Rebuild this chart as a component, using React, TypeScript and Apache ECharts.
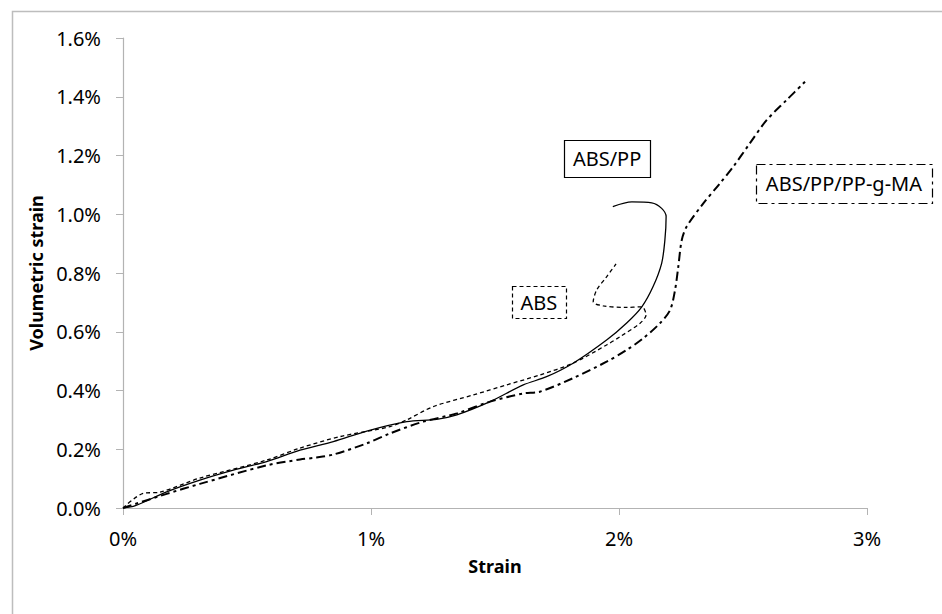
import React, { useEffect, useRef } from "react";
import * as echarts from "echarts";

// Strain (%) vs volumetric strain (%)
const absPP: [number, number][] = [
  [0, 0], [0.05, 0.008], [0.176, 0.055], [0.31, 0.095], [0.445, 0.129], [0.579, 0.158],
  [0.714, 0.197], [0.848, 0.226], [0.983, 0.262], [1.144, 0.294], [1.265, 0.302],
  [1.346, 0.317], [1.48, 0.362], [1.614, 0.419], [1.708, 0.447], [1.815, 0.493],
  [1.95, 0.572], [2.031, 0.63], [2.092, 0.685], [2.137, 0.753], [2.172, 0.833],
  [2.185, 0.912], [2.19, 0.992], [2.172, 1.02], [2.132, 1.039], [2.052, 1.042], [1.975, 1.026],
];

const abs: [number, number][] = [
  [0, 0], [0.082, 0.05], [0.149, 0.054], [0.31, 0.102], [0.579, 0.163], [0.714, 0.204],
  [0.875, 0.243], [1.077, 0.277], [1.144, 0.3], [1.251, 0.345], [1.413, 0.385],
  [1.547, 0.419], [1.681, 0.453], [1.815, 0.493], [1.95, 0.555], [2.004, 0.583],
  [2.085, 0.629], [2.109, 0.657], [2.092, 0.685], [2.031, 0.683], [1.937, 0.688],
  [1.896, 0.702], [1.91, 0.742], [1.95, 0.787], [1.988, 0.831],
];

const absPPgMA: [number, number][] = [
  [0, 0], [0.176, 0.048], [0.31, 0.082], [0.579, 0.145], [0.714, 0.165], [0.781, 0.172],
  [0.848, 0.182], [0.983, 0.22], [1.077, 0.254], [1.211, 0.294], [1.346, 0.322],
  [1.48, 0.362], [1.614, 0.39], [1.681, 0.396], [1.815, 0.442], [1.95, 0.498],
  [2.031, 0.538], [2.098, 0.578], [2.165, 0.629], [2.206, 0.674], [2.226, 0.742],
  [2.239, 0.821], [2.253, 0.912], [2.273, 0.958], [2.34, 1.037], [2.407, 1.105],
  [2.461, 1.162], [2.528, 1.242], [2.596, 1.321], [2.676, 1.389], [2.75, 1.451],
];

const seriesNames = ["ABS/PP", "ABS", "ABS/PP/PP-g-MA"];
// annotation box centers in data coordinates (strain %, vol %)
const labelAnchors: [number, number][] = [[1.952, 1.19], [1.677, 0.701], [2.907, 1.105]];
const labelSizes: [number, number][] = [[86, 37], [54, 32], [176, 39]];

const xTicks = [0, 1, 2, 3];
const yTicks = [0, 0.2, 0.4, 0.6, 0.8, 1.0, 1.2, 1.4, 1.6];

const FONT = "'Noto Sans', 'Open Sans', sans-serif";
const AXIS_GRAY = "#B3B3B3";
const dashes = [null, [4, 3], [9, 4, 3, 4]] as (number[] | null)[];

export default function App() {
  const ref = useRef<HTMLDivElement>(null);
  useEffect(() => {
    if (!ref.current) return;
    const chart = echarts.init(ref.current, undefined, { renderer: "svg" });
    const data = [absPP, abs, absPPgMA];
    const widths = [1.3, 1.3, 2];
    chart.setOption({
      animation: false,
      grid: { left: 123, top: 38, right: 75, bottom: 106 },
      xAxis: {
        type: "value",
        min: xTicks[0],
        max: xTicks[xTicks.length - 1],
        interval: 1,
        name: "Strain",
        nameLocation: "middle",
        nameGap: 49,
        nameTextStyle: { fontFamily: FONT, fontSize: 18, fontWeight: "bold", color: "#000" },
        axisLine: { lineStyle: { color: AXIS_GRAY, width: 1.2 } },
        axisTick: { show: true, length: 7, lineStyle: { color: AXIS_GRAY } },
        splitLine: { show: false },
        axisLabel: {
          fontFamily: FONT, fontSize: 20, color: "#000", margin: 20,
          formatter: (v: number) => `${v}%`,
        },
      },
      yAxis: {
        type: "value",
        min: yTicks[0],
        max: yTicks[yTicks.length - 1],
        interval: 0.2,
        name: "Volumetric strain",
        nameLocation: "middle",
        nameGap: 68,
        nameTextStyle: { fontFamily: FONT, fontSize: 18, fontWeight: "bold", color: "#000" },
        axisLine: { show: true, lineStyle: { color: AXIS_GRAY, width: 1.2 } },
        axisTick: { show: true, length: 7, lineStyle: { color: AXIS_GRAY } },
        splitLine: { show: false },
        axisLabel: {
          fontFamily: FONT, fontSize: 20, color: "#000", margin: 22,
          formatter: (v: number) => `${v.toFixed(1)}%`,
        },
      },
      series: data.map((d, i) => ({
        name: seriesNames[i],
        type: "line",
        data: d,
        showSymbol: false,
        smooth: 0.3,
        lineStyle: { color: "#000", width: widths[i], type: dashes[i] ?? "solid" },
        z: 3 - i,
      })),
    });
    const graphics: any[] = [
      {
        type: "rect",
        shape: { x: 12.5, y: 11.5, width: 1000, height: 700 },
        style: { fill: "none", stroke: "#BDBDBD", lineWidth: 1.5 },
        silent: true,
        z: 0,
      },
    ];
    labelAnchors.forEach((a, i) => {
      const p = chart.convertToPixel({ gridIndex: 0 }, a) as number[];
      const [w, h] = labelSizes[i];
      graphics.push({
        type: "rect",
        shape: { x: Math.round(p[0] - w / 2) + 0.5, y: Math.round(p[1] - h / 2) + 0.5, width: w, height: h },
        style: { fill: "#fff", stroke: "#000", lineWidth: 1.2, lineDash: dashes[i] ?? undefined },
        z: 10,
      });
      graphics.push({
        type: "text",
        x: p[0],
        y: p[1],
        style: {
          text: seriesNames[i], fontFamily: FONT, fontSize: 20, fill: "#000",
          align: "center", verticalAlign: "middle",
        },
        z: 11,
      });
    });
    chart.setOption({ graphic: graphics });
    return () => chart.dispose();
  }, []);
  return (
    <div
      ref={ref}
      style={{ position: "fixed", left: 0, top: 0, width: 942, height: 614, background: "#fff" }}
    />
  );
}
